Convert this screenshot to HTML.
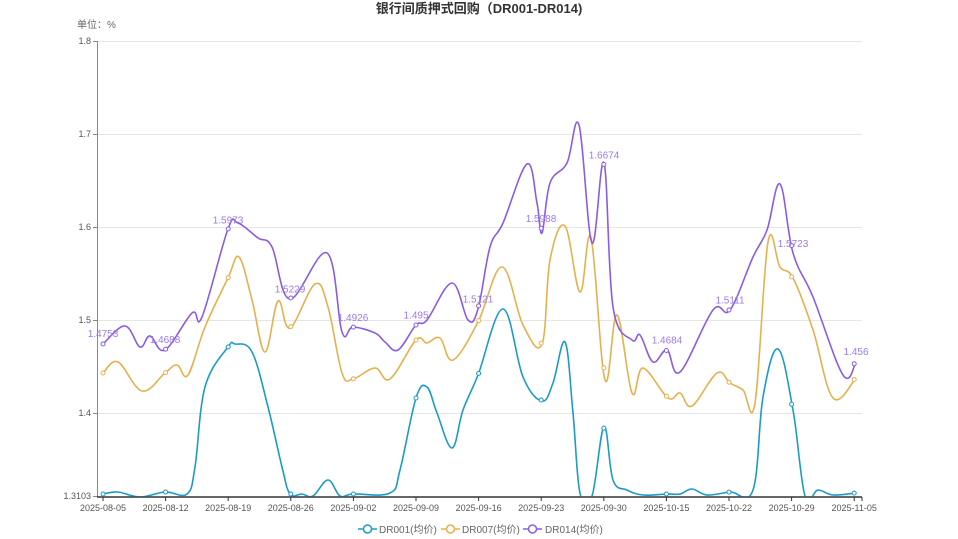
<!DOCTYPE html>
<html><head><meta charset="utf-8"><style>
html,body{margin:0;padding:0;background:#fff;}
svg{display:block;font-family:"Liberation Sans","Noto Sans CJK SC",sans-serif;}
</style></head><body>
<svg id="s" width="958" height="539" viewBox="0 0 958 539">
<defs><clipPath id="c"><rect x="97" y="30" width="770" height="466.5"/></clipPath></defs>
<text x="479" y="13" text-anchor="middle" font-size="13" font-weight="bold" fill="#333">银行间质押式回购（DR001-DR014)</text>
<text x="77" y="28" font-size="10" fill="#666">单位：%</text>
<g stroke="#e6e6e6" stroke-width="1">
<line x1="97" y1="41.5" x2="862" y2="41.5"/>
<line x1="97" y1="134.5" x2="862" y2="134.5"/>
<line x1="97" y1="227.5" x2="862" y2="227.5"/>
<line x1="97" y1="320.5" x2="862" y2="320.5"/>
<line x1="97" y1="413.5" x2="862" y2="413.5"/>
</g>
<line x1="97.5" y1="41" x2="97.5" y2="497" stroke="#888"/>
<g stroke="#888"><line x1="93" y1="41.5" x2="97" y2="41.5"/><line x1="93" y1="134.5" x2="97" y2="134.5"/><line x1="93" y1="227.5" x2="97" y2="227.5"/><line x1="93" y1="320.5" x2="97" y2="320.5"/><line x1="93" y1="413.5" x2="97" y2="413.5"/><line x1="93" y1="496.5" x2="97" y2="496.5"/></g>
<g font-size="9" fill="#555" text-anchor="end">
<text x="91" y="44">1.8</text><text x="91" y="137">1.7</text><text x="91" y="230">1.6</text><text x="91" y="323">1.5</text><text x="91" y="416">1.4</text><text x="91" y="499">1.3103</text>
</g>
<line x1="97" y1="497" x2="862" y2="497" stroke="#333" stroke-width="1.5"/>
<g id="xt"></g>
<g id="series"></g>
<g font-size="10" fill="#666">
<line x1="358" y1="529" x2="377" y2="529" stroke="#1a9bc9" stroke-width="1.5"/><circle cx="367.5" cy="529" r="4" fill="#fff" stroke="#1a9bc9" stroke-width="1.5"/>
<text x="379" y="533">DR001(均价)</text>
<line x1="441" y1="529" x2="460" y2="529" stroke="#e6b04c" stroke-width="1.5"/><circle cx="450.5" cy="529" r="4" fill="#fff" stroke="#e6b04c" stroke-width="1.5"/>
<text x="462" y="533">DR007(均价)</text>
<line x1="523" y1="529" x2="542" y2="529" stroke="#8a5ce6" stroke-width="1.5"/><circle cx="532.5" cy="529" r="4" fill="#fff" stroke="#8a5ce6" stroke-width="1.5"/>
<text x="545" y="533">DR014(均价)</text>
</g>
</svg>
<script>
var NS="http://www.w3.org/2000/svg";
function el(t,a,p){var e=document.createElementNS(NS,t);for(var k in a)e.setAttribute(k,a[k]);p.appendChild(e);return e;}
var labels=["2025-08-05","2025-08-12","2025-08-19","2025-08-26","2025-09-02","2025-09-09","2025-09-16","2025-09-23","2025-09-30","2025-10-15","2025-10-22","2025-10-29","2025-11-05"];
var xt=document.getElementById("xt");
labels.forEach(function(l,i){var x=103+i*62.6;el("line",{x1:x,y1:497,x2:x,y2:501,stroke:"#333"},xt);var t=el("text",{x:x,y:511,"font-size":"9","fill":"#555","text-anchor":"middle"},xt);t.textContent=l;});
el("line",{x1:862,y1:497,x2:862,y2:501,stroke:"#333"},xt);
var P=[[103,344],[125,326],[140,347],[150,336],[165,350],[192,313],[202,317],[228,229],[238,223],[258,238],[272,247],[290,299],[327,253],[342,332],[353,327],[375,333],[385,342],[398,350],[416,325],[427,320],[452,283],[468,320],[478,309],[490,247],[503,223],[527,164],[537,203],[542,233],[550,183],[567,163],[579,125],[592,243],[604,163],[613,307],[632,340],[640,335],[653,362],[667,350],[680,372],[713,310],[730,310],[753,257],[767,230],[780,184],[793,253],[813,297],[843,375],[856,362]];
var O=[[103,373],[118,362],[142,391],[165,373],[177,365],[188,375],[205,327],[228,278],[239,257],[252,300],[265,352],[278,301],[290,328],[315,284],[328,307],[342,373],[353,379],[375,368],[390,379],[416,340],[427,343],[440,338],[453,360],[478,322],[502,267],[523,325],[542,344],[550,260],[565,226],[580,292],[591,238],[605,380],[617,315],[632,393],[643,368],[668,398],[680,393],[692,406],[717,373],[730,383],[743,390],[755,403],[768,242],[780,267],[793,278],[813,330],[833,398],[856,378]];
var B=[[103,494],[118,492],[140,497],[165,492],[187,494],[195,467],[205,387],[228,347],[235,344],[252,352],[268,407],[282,467],[290,494],[302,494],[313,496],[328,480],[340,496],[353,494],[390,493],[400,470],[416,398],[427,387],[437,413],[452,448],[463,410],[478,375],[503,309],[523,377],[542,401],[553,383],[565,342],[573,413],[580,493],[592,496],[604,427],[613,480],[627,490],[643,495],[667,494],[680,494],[692,489],[707,495],[730,492],[753,490],[763,397],[778,349],[793,410],[805,496],[818,490],[833,495],[856,493]];
function path(pts){var d="M"+pts[0][0]+","+pts[0][1];for(var i=0;i<pts.length-1;i++){var p0=pts[i-1]||pts[i],p1=pts[i],p2=pts[i+1],p3=pts[i+2]||p2;var t=0.18;var c1x=p1[0]+(p2[0]-p0[0])*t,c1y=p1[1]+(p2[1]-p0[1])*t,c2x=p2[0]-(p3[0]-p1[0])*t,c2y=p2[1]-(p3[1]-p1[1])*t;d+=" C"+c1x+","+c1y+" "+c2x+","+c2y+" "+p2[0]+","+p2[1];}return d;}
function yAt(pts,x){for(var i=0;i<pts.length-1;i++){if(x>=pts[i][0]&&x<=pts[i+1][0]){var f=(x-pts[i][0])/(pts[i+1][0]-pts[i][0]);return pts[i][1]+f*(pts[i+1][1]-pts[i][1]);}}return pts[pts.length-1][1];}
var g=document.getElementById("series");
[[B,"#1a9bc9"],[O,"#e6b04c"],[P,"#8a5ce6"]].forEach(function(s){
el("path",{d:path(s[0]),fill:"none",stroke:s[1],"stroke-width":"1.6","clip-path":"url(#c)"},g);
for(var i=0;i<13;i++){var x=103+i*62.6;if(x>856)x=856;el("circle",{cx:x,cy:yAt(s[0],x),r:2,fill:"#fff",stroke:s[1],"stroke-width":"1"},g);}
});
var L=[[103,"1.4753"],[165,"1.4688"],[228,"1.5973"],[290,"1.5229"],[353,"1.4926"],[416,"1.495"],[478,"1.5121"],[541,"1.5988"],[604,"1.6674"],[667,"1.4684"],[730,"1.5111"],[793,"1.5723"],[856,"1.456"]];
L.forEach(function(l){var y=413-(parseFloat(l[1])-1.4)*930;var t=el("text",{x:l[0],y:y-6,"font-size":"10","fill":"#9b7be8","text-anchor":"middle"},g);t.textContent=l[1];});
</script>
</body></html>
